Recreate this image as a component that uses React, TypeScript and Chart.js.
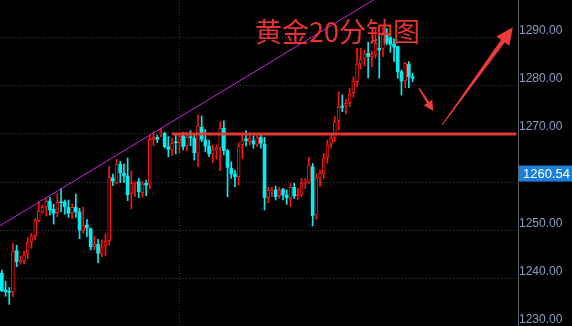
import { useEffect, useRef } from 'react';
import { Chart, registerables } from 'chart.js';

Chart.register(...registerables);

// ---- data (20-minute gold candles) ----
const opens = [
  1241.14, 1237.68, 1237.30, 1237.27, 1245.82, 1243.54, 1243.75, 1245.13, 1247.68, 1248.92,
  1252.03, 1253.83, 1254.92, 1256.10, 1254.39, 1253.68, 1255.96, 1255.90, 1254.80, 1253.68,
  1254.80, 1253.83, 1249.96, 1251.13, 1250.37, 1246.64, 1247.14, 1245.28, 1246.85, 1247.88,
  1260.87, 1259.89, 1263.77, 1261.84, 1261.28, 1257.70, 1259.77, 1260.10, 1257.82, 1259.77,
  1259.56, 1268.88, 1269.29, 1269.98, 1270.12, 1267.35, 1266.66, 1268.32, 1268.18, 1269.56,
  1267.49, 1269.42, 1269.09, 1265.98, 1271.36, 1268.73, 1267.49, 1265.98, 1266.66, 1267.14,
  1271.16, 1266.52, 1262.88, 1261.69, 1261.14, 1267.70, 1269.00, 1268.38, 1268.59, 1267.84,
  1269.29, 1267.90, 1256.87, 1258.24, 1258.38, 1257.20, 1258.53, 1257.35, 1256.66, 1258.94,
  1257.20, 1257.35, 1259.98, 1259.98, 1263.20, 1253.21, 1261.01, 1261.69, 1265.15, 1268.05,
  1269.29, 1272.73, 1275.77, 1275.92, 1276.46, 1278.53, 1280.81, 1284.47, 1285.71, 1286.68,
  1285.98, 1286.33, 1287.72, 1287.72, 1290.83, 1289.92, 1288.55, 1288.05, 1282.88, 1280.95,
  1284.41, 1281.84,
];
const highs = [
  1241.82, 1239.50, 1238.20, 1247.35, 1246.93, 1244.72, 1245.75, 1248.51, 1249.42, 1252.52,
  1255.96, 1255.28, 1256.52, 1256.87, 1255.48, 1257.70, 1258.73, 1256.31, 1256.31, 1255.48,
  1257.55, 1254.59, 1254.80, 1252.32, 1250.51, 1248.86, 1248.18, 1248.03, 1249.27, 1263.35,
  1261.69, 1264.74, 1264.32, 1263.77, 1265.01, 1262.32, 1260.10, 1260.80, 1260.10, 1260.45,
  1269.77, 1270.45, 1269.77, 1271.16, 1270.39, 1269.42, 1269.09, 1269.77, 1270.12, 1270.25,
  1270.33, 1270.66, 1269.77, 1273.91, 1273.70, 1270.95, 1268.73, 1267.70, 1267.70, 1272.52,
  1272.73, 1266.81, 1264.24, 1262.52, 1268.17, 1270.00, 1270.70, 1270.12, 1269.62, 1269.77,
  1269.77, 1269.29, 1258.94, 1258.94, 1259.21, 1258.94, 1258.73, 1258.38, 1259.77, 1259.77,
  1258.73, 1260.80, 1260.80, 1265.15, 1263.91, 1261.80, 1262.52, 1265.98, 1268.73, 1270.12,
  1273.56, 1278.73, 1278.05, 1277.16, 1279.44, 1281.84, 1287.72, 1287.72, 1287.37, 1289.02,
  1287.16, 1291.86, 1290.62, 1292.19, 1291.86, 1290.33, 1289.65, 1288.20, 1283.23, 1284.82,
  1284.95, 1282.54,
];
const lows = [
  1237.33, 1236.40, 1234.70, 1236.29, 1242.50, 1243.06, 1243.06, 1244.16, 1246.31, 1248.18,
  1251.82, 1253.56, 1253.00, 1253.21, 1251.34, 1252.85, 1253.89, 1253.35, 1252.73, 1252.52,
  1252.73, 1248.30, 1249.42, 1248.71, 1245.96, 1245.96, 1243.33, 1244.57, 1244.72, 1246.99,
  1259.27, 1259.62, 1259.89, 1259.89, 1256.17, 1254.51, 1256.99, 1256.79, 1256.87, 1257.20,
  1258.65, 1267.55, 1268.18, 1269.42, 1267.08, 1265.28, 1265.57, 1265.84, 1266.11, 1266.66,
  1266.52, 1267.55, 1264.59, 1263.20, 1268.38, 1266.31, 1265.28, 1264.04, 1264.74, 1262.38,
  1265.63, 1256.99, 1260.80, 1259.07, 1259.42, 1264.90, 1267.50, 1267.70, 1267.02, 1267.35,
  1267.02, 1254.24, 1255.75, 1256.99, 1256.31, 1256.66, 1256.31, 1255.42, 1254.92, 1256.66,
  1256.46, 1256.99, 1258.73, 1259.77, 1250.93, 1252.38, 1259.07, 1260.80, 1263.91, 1267.02,
  1268.38, 1270.81, 1274.59, 1274.12, 1275.63, 1277.57, 1279.77, 1283.43, 1284.06, 1281.57,
  1283.91, 1285.65, 1281.51, 1285.98, 1288.40, 1286.89, 1284.95, 1281.51, 1278.05, 1279.56,
  1279.56, 1280.81,
];
const closes = [
  1237.53, 1237.33, 1237.20, 1245.75, 1243.54, 1243.89, 1244.93, 1247.55, 1248.86, 1252.17,
  1254.03, 1254.80, 1256.10, 1254.24, 1253.56, 1255.90, 1255.75, 1254.92, 1253.56, 1254.80,
  1253.83, 1250.10, 1251.07, 1250.57, 1246.64, 1247.14, 1245.28, 1246.64, 1247.76, 1261.01,
  1260.25, 1263.77, 1261.96, 1261.28, 1257.41, 1259.77, 1260.10, 1258.03, 1259.62, 1259.36,
  1268.88, 1269.29, 1268.88, 1270.12, 1267.35, 1266.81, 1268.05, 1268.18, 1269.42, 1267.35,
  1269.29, 1269.21, 1266.11, 1271.63, 1268.88, 1267.49, 1265.84, 1266.66, 1267.02, 1271.16,
  1266.52, 1263.08, 1261.69, 1261.14, 1267.49, 1268.60, 1268.60, 1269.15, 1267.90, 1269.21,
  1268.05, 1256.79, 1258.38, 1258.38, 1256.99, 1258.24, 1257.35, 1256.79, 1258.94, 1257.14,
  1257.49, 1259.77, 1260.25, 1263.56, 1253.10, 1260.87, 1261.84, 1264.94, 1267.70, 1269.09,
  1272.52, 1275.50, 1275.50, 1276.33, 1278.26, 1280.81, 1284.47, 1285.44, 1286.54, 1286.02,
  1286.48, 1288.76, 1287.37, 1290.83, 1288.88, 1288.55, 1287.99, 1282.88, 1280.95, 1284.61,
  1281.84, 1281.51,
];

const yTickValues = [1230, 1240, 1250, 1260, 1270, 1280, 1290];
const lastPrice = 1260.54;
const titleText = '黄金20分钟图';
const supportLevel = 1270;
const supportFromTo = [46, 139];
const trendX = [-0.5, 101];
const trendY = [1251.0, 1298.0];
const arrowSmall = [112.8, 1279.44, 116.6, 1274.74];
const arrowBig = [119.0, 1271.84, 138.1, 1292.07];
const xRange = [-0.5, 139.5];
const yRange = [1230.23, 1297.72];
const vGridAt = 48;

const UP = '#ff1414';
const DOWN = '#00eef0';

export default function App() {
  const ref = useRef<HTMLCanvasElement | null>(null);

  useEffect(() => {
    const canvas = ref.current;
    if (!canvas) return;
    const up = opens.map((o, i) => closes[i] >= o);

    const overlay = {
      id: 'overlay',
      beforeDraw(chart: any) {
        const c = chart.ctx;
        c.save();
        c.fillStyle = '#000';
        c.fillRect(0, 0, chart.width, chart.height);
        c.restore();
      },
      afterDraw(chart: any) {
        const c = chart.ctx;
        const xs = chart.scales.x;
        const ys = chart.scales.y;
        const arrow = (a: number[], w0: number, w1: number, hl: number, hh: number) => {
          const x0 = xs.getPixelForValue(a[0]);
          const y0 = ys.getPixelForValue(a[1]);
          const x1 = xs.getPixelForValue(a[2]);
          const y1 = ys.getPixelForValue(a[3]);
          const dx = x1 - x0, dy = y1 - y0;
          const L = Math.hypot(dx, dy);
          const ux = dx / L, uy = dy / L;
          const nx = -uy, ny = ux;
          const bx = x1 - ux * hl, by = y1 - uy * hl;
          c.beginPath();
          c.moveTo(x0 + nx * w0 / 2, y0 + ny * w0 / 2);
          c.lineTo(bx + nx * w1 / 2, by + ny * w1 / 2);
          c.lineTo(bx + nx * hh, by + ny * hh);
          c.lineTo(x1, y1);
          c.lineTo(bx - nx * hh, by - ny * hh);
          c.lineTo(bx - nx * w1 / 2, by - ny * w1 / 2);
          c.lineTo(x0 - nx * w0 / 2, y0 - ny * w0 / 2);
          c.closePath();
          c.fill();
        };
        c.save();
        c.fillStyle = '#f03a3a';
        arrow(arrowSmall, 1.5, 2.5, 10, 5);
        arrow(arrowBig, 1, 4.5, 17, 8);

        c.fillStyle = '#e8332f';
        c.font = '27px "Noto Sans CJK SC"';
        c.textBaseline = 'alphabetic';
        c.textAlign = 'left';
        c.fillText(titleText, 255, 42);

        const py = ys.getPixelForValue(lastPrice) - 6;
        c.fillStyle = '#1a7fd6';
        c.fillRect(519, py - 8, chart.width - 519, 16);
        c.fillStyle = '#ffffff';
        c.font = '13px "Liberation Sans"';
        c.textBaseline = 'middle';
        c.fillText(lastPrice.toFixed(2), 523, py + 0.5);
        c.restore();
      },
    };

    const chart = new Chart(canvas, {
      type: 'bar',
      data: {
        datasets: [
          {
            type: 'line',
            data: supportFromTo.map((x) => ({ x, y: supportLevel })),
            borderColor: 'rgba(238,56,56,0.95)',
            borderWidth: 3,
            pointRadius: 0,
            order: 0,
          } as any,
          {
            type: 'line',
            data: trendX.map((x, i) => ({ x, y: trendY[i] })),
            borderColor: '#d41ee6',
            borderWidth: 1,
            pointRadius: 0,
            order: 1,
          } as any,
          {
            type: 'bar',
            data: opens.map((o, i) => ({ x: i, y: [o, closes[i]] })),
            backgroundColor: up.map((u) => (u ? '#000000' : DOWN)),
            borderColor: up.map((u) => (u ? UP : DOWN)),
            borderWidth: up.map((u) => (u ? 1 : 0)),
            borderSkipped: false,
            barThickness: 3,
            minBarLength: 1,
            grouped: false,
            order: 2,
          } as any,
          {
            type: 'bar',
            data: lows.map((l, i) => ({ x: i, y: [l, highs[i]] })),
            backgroundColor: up.map((u) => (u ? UP : DOWN)),
            borderWidth: 0,
            barThickness: 1,
            minBarLength: 1,
            grouped: false,
            order: 3,
          } as any,
        ],
      },
      options: {
        responsive: false,
        animation: false,
        devicePixelRatio: 1,
        layout: { padding: 0 },
        plugins: { legend: { display: false }, tooltip: { enabled: false } },
        scales: {
          x: {
            type: 'linear',
            min: xRange[0],
            max: xRange[1],
            offset: false,
            afterBuildTicks: (s: any) => {
              s.ticks = [{ value: vGridAt }];
            },
            afterFit: (s: any) => {
              s.height = 0;
              s.paddingLeft = 0;
              s.paddingRight = 0;
              s.paddingTop = 0;
              s.paddingBottom = 0;
            },
            ticks: { display: false },
            grid: { color: '#3a3a3a', drawTicks: false, offset: false },
            border: { display: false, dash: [1, 2] },
          },
          y: {
            position: 'right',
            min: yRange[0],
            max: yRange[1],
            afterBuildTicks: (s: any) => {
              s.ticks = yTickValues.map((v) => ({ value: v }));
            },
            afterFit: (s: any) => {
              s.width = 54;
              s.paddingTop = 0;
              s.paddingBottom = 0;
              s.paddingLeft = 0;
              s.paddingRight = 0;
            },
            ticks: {
              color: '#8c9dc0',
              font: { family: '"Liberation Sans", Arial', size: 12 },
              padding: 1,
              labelOffset: -7,
              callback: (v: any) => Number(v).toFixed(2),
            },
            grid: { color: '#3a3a3a', drawTicks: false },
            border: { display: true, color: '#5a5f6a', width: 1, dash: [1, 2] },
          },
        },
      } as any,
      plugins: [overlay],
    });
    return () => chart.destroy();
  }, []);

  return (
    <div style={{ position: 'fixed', left: 0, top: 0, width: 572, height: 326, background: '#000' }}>
      <canvas ref={ref} width={572} height={326} style={{ display: 'block' }} />
    </div>
  );
}
